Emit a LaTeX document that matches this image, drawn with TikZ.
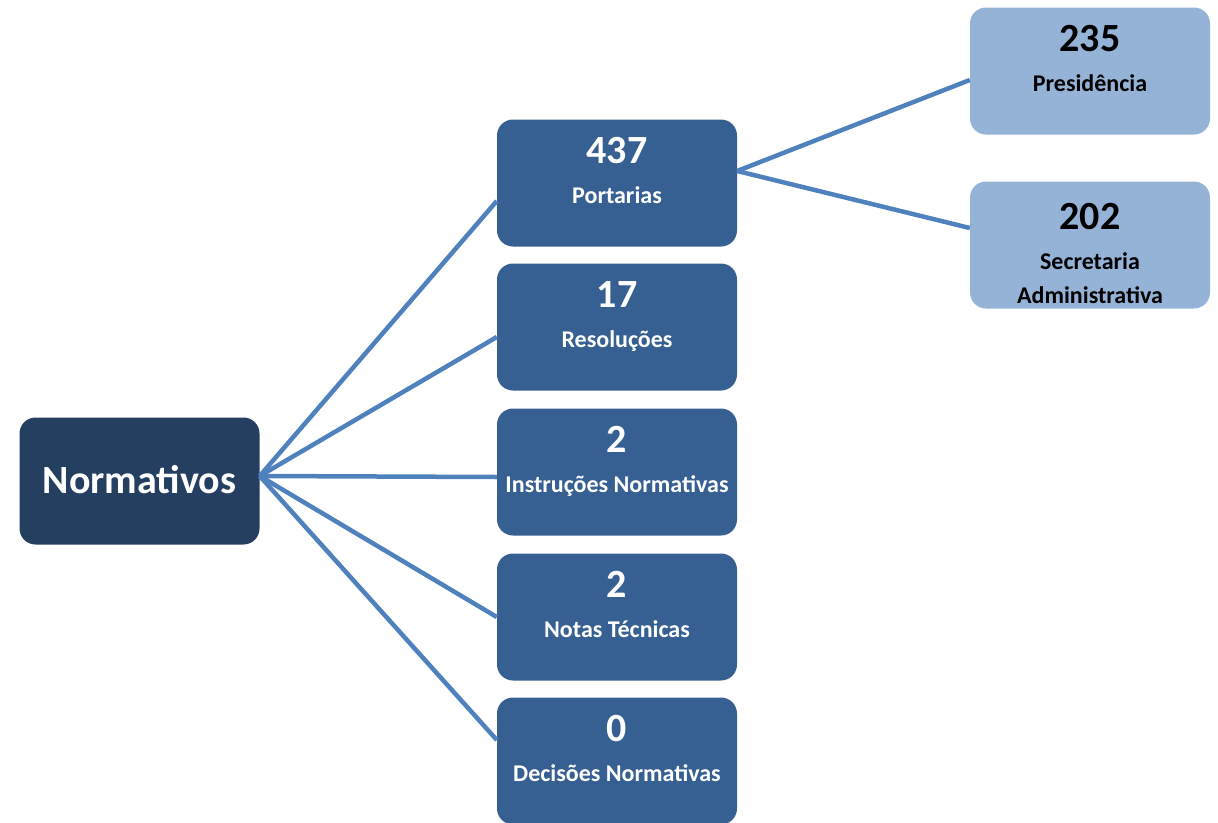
\documentclass[tikz,border=0pt]{standalone}
\usepackage{fontspec}
\setmainfont{Carlito}
\usepackage{tikz}
\usetikzlibrary{positioning}

\definecolor{navy}{HTML}{243F60}
\definecolor{midblue}{HTML}{376092}
\definecolor{lightblue}{HTML}{95B3D7}
\definecolor{linkblue}{HTML}{4F81BD}

\newcommand{\numfont}{\fontsize{40}{44}\selectfont\bfseries}
\newcommand{\lblfont}{\fontsize{24}{34}\selectfont\bfseries}
% number on top, label lines below
\newcommand{\boxtext}[3][44pt]{%
  \vbox to 127pt{\offinterlineskip\vskip#1%
    \hbox to 240pt{\hss\smash{\numfont #2}\hss}%
    \vskip 40pt%
    \hbox to 240pt{\hss\smash{\lblfont\begin{tabular}[t]{@{}c@{}}#3\end{tabular}}\hss}%
    \vss}}

\begin{document}
\begin{tikzpicture}[
    x=1pt, y=-1pt,
    box/.style={rectangle, rounded corners=16pt, minimum width=240pt, minimum height=127pt, inner sep=0pt},
    root/.style={box, fill=navy, text=white, font=\fontsize{40}{44}\selectfont\bfseries},
    mid/.style={box, fill=midblue, text=white},
    leaf/.style={box, fill=lightblue, text=black},
    link/.style={draw=linkblue, line width=4.5pt}
]
    \useasboundingbox (0,0) rectangle (1218,822);

    % Root (left)
    \node[root] (norm) at (139.5,481) {\raisebox{3pt}{Normativos}};

    % Middle column
    \node[mid] (port) at (617,183) {\boxtext{437}{Portarias}};
    \node[mid] (res) at (617,327) {\boxtext{17}{Resoluções}};
    \node[mid] (inst) at (617,472) {\boxtext{2}{Instruções Normativas}};
    \node[mid] (notas) at (617,617) {\boxtext{2}{Notas Técnicas}};
    \node[mid] (dec) at (617,761) {\boxtext{0}{Decisões Normativas}};

    % Right column
    \node[leaf] (pres) at (1090,71) {\boxtext{235}{Presidência}};
    \node[leaf] (sec) at (1090,245) {\boxtext[48pt]{202}{Secretaria\\Administrativa}};

    % Connectors
    \draw[link] ([yshift=5pt]norm.east) -- ([yshift=-18pt]port.west);
    \draw[link] ([yshift=5pt]norm.east) -- ([yshift=-10pt]res.west);
    \draw[link] ([yshift=5pt]norm.east) -- ([yshift=-5pt]inst.west);
    \draw[link] ([yshift=5pt]norm.east) -- (notas.west);
    \draw[link] ([yshift=5pt]norm.east) -- ([yshift=21pt]dec.west);
    \draw[link] ([yshift=12pt]port.east) -- ([yshift=-9pt]pres.west);
    \draw[link] ([yshift=12pt]port.east) -- ([yshift=17pt]sec.west);
\end{tikzpicture}
\end{document}
